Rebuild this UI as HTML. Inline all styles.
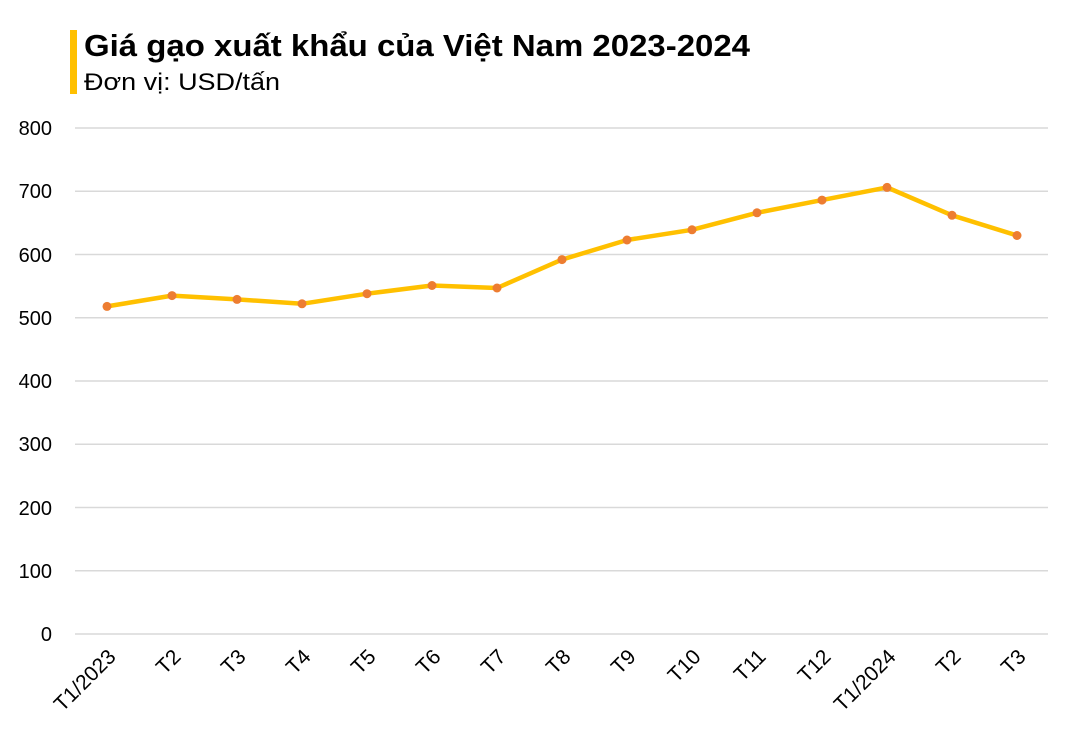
<!DOCTYPE html><html><head><meta charset="utf-8"><style>body{margin:0;background:#fff}svg{display:block}text{font-family:"Liberation Sans",sans-serif}</style></head><body>
<svg width="1072" height="747" xmlns="http://www.w3.org/2000/svg">
<rect width="1072" height="747" fill="#fff"/>
<rect x="70" y="30" width="7" height="64" fill="#FFC000"/>
<text x="84" y="56" font-size="31" font-weight="bold" fill="#000" textLength="666" lengthAdjust="spacingAndGlyphs">Giá gạo xuất khẩu của Việt Nam 2023-2024</text>
<text x="84" y="90" font-size="24" fill="#000" textLength="196" lengthAdjust="spacingAndGlyphs">Đơn vị: USD/tấn</text>
<g stroke="#d9d9d9" stroke-width="1.5">
<line x1="75" x2="1048" y1="128" y2="128"/><line x1="75" x2="1048" y1="191.25" y2="191.25"/><line x1="75" x2="1048" y1="254.5" y2="254.5"/><line x1="75" x2="1048" y1="317.75" y2="317.75"/><line x1="75" x2="1048" y1="381" y2="381"/><line x1="75" x2="1048" y1="444.25" y2="444.25"/><line x1="75" x2="1048" y1="507.5" y2="507.5"/><line x1="75" x2="1048" y1="570.75" y2="570.75"/><line x1="75" x2="1048" y1="634" y2="634"/>
</g>
<g font-size="20" text-anchor="end" fill="#000">
<text x="52" y="135">800</text><text x="52" y="198">700</text><text x="52" y="262">600</text><text x="52" y="325">500</text><text x="52" y="388">400</text><text x="52" y="451">300</text><text x="52" y="515">200</text><text x="52" y="578">100</text><text x="52" y="641">0</text>
</g>
<polyline fill="none" stroke="#FFC000" stroke-width="4.5" stroke-linejoin="round" points="107,306.4 172,295.6 237,299.4 302,303.8 367,293.7 432,285.5 497,288 562,259.6 627,240 692,229.8 757,212.8 822,200.1 887,187.4 952,215.3 1017,235.5"/>
<g fill="#ED7D31">
<circle cx="107" cy="306.4" r="4.5"/><circle cx="172" cy="295.6" r="4.5"/><circle cx="237" cy="299.4" r="4.5"/><circle cx="302" cy="303.8" r="4.5"/><circle cx="367" cy="293.7" r="4.5"/><circle cx="432" cy="285.5" r="4.5"/><circle cx="497" cy="288" r="4.5"/><circle cx="562" cy="259.6" r="4.5"/><circle cx="627" cy="240" r="4.5"/><circle cx="692" cy="229.8" r="4.5"/><circle cx="757" cy="212.8" r="4.5"/><circle cx="822" cy="200.1" r="4.5"/><circle cx="887" cy="187.4" r="4.5"/><circle cx="952" cy="215.3" r="4.5"/><circle cx="1017" cy="235.5" r="4.5"/>
</g>
<g font-size="21" text-anchor="end" fill="#000">
<text transform="translate(117,658) rotate(-45)">T1/2023</text>
<text transform="translate(182,658) rotate(-45)">T2</text>
<text transform="translate(247,658) rotate(-45)">T3</text>
<text transform="translate(312,658) rotate(-45)">T4</text>
<text transform="translate(377,658) rotate(-45)">T5</text>
<text transform="translate(442,658) rotate(-45)">T6</text>
<text transform="translate(507,658) rotate(-45)">T7</text>
<text transform="translate(572,658) rotate(-45)">T8</text>
<text transform="translate(637,658) rotate(-45)">T9</text>
<text transform="translate(702,658) rotate(-45)">T10</text>
<text transform="translate(767,658) rotate(-45)">T11</text>
<text transform="translate(832,658) rotate(-45)">T12</text>
<text transform="translate(897,658) rotate(-45)">T1/2024</text>
<text transform="translate(962,658) rotate(-45)">T2</text>
<text transform="translate(1027,658) rotate(-45)">T3</text>
</g>
</svg></body></html>
